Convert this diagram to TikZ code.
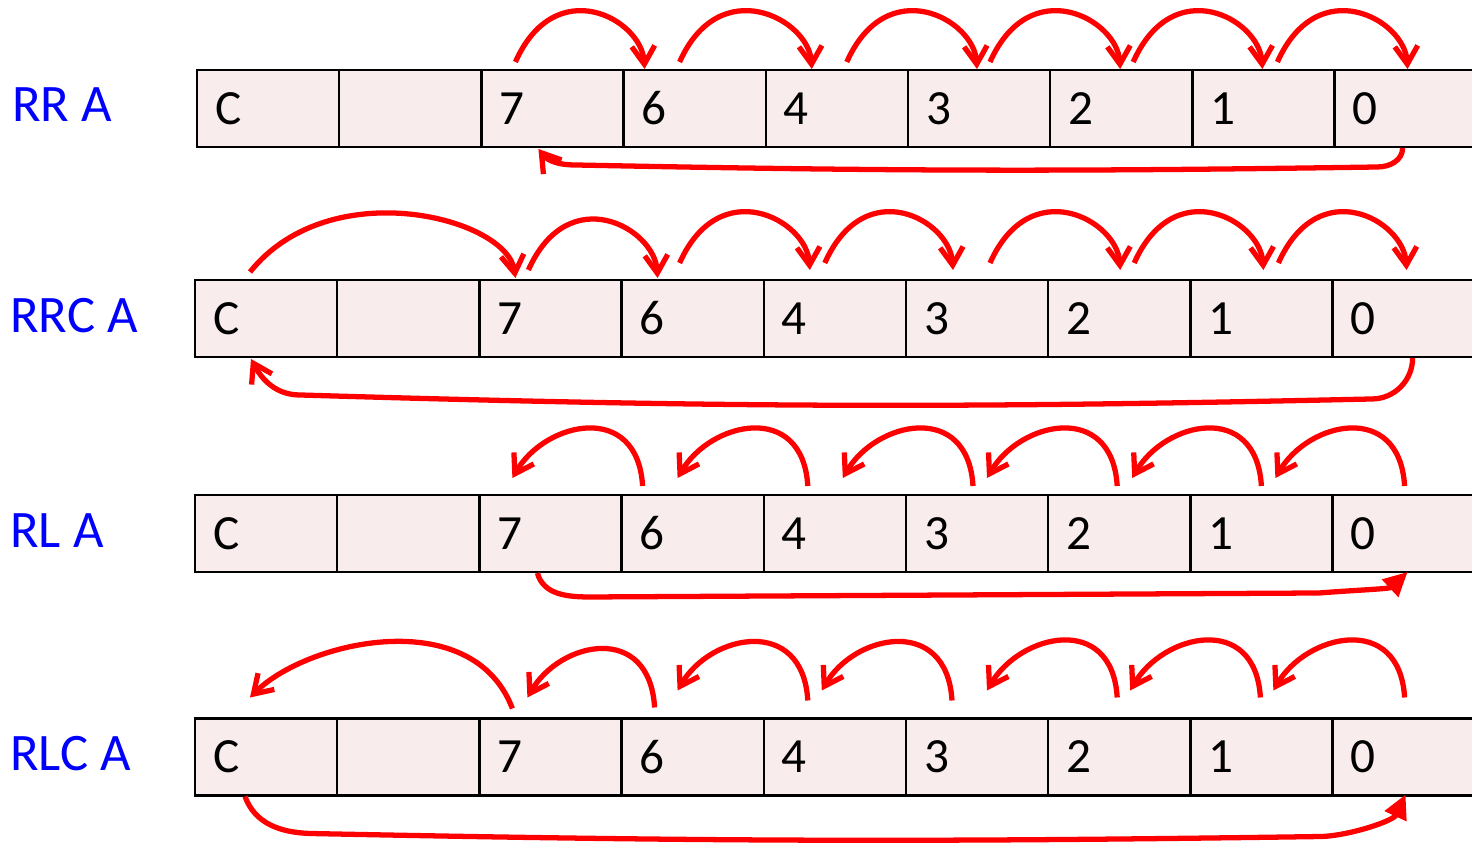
\documentclass[tikz,border=0pt]{standalone}
\usepackage{fontspec}
\setmainfont{Carlito}
\usetikzlibrary{arrows.meta,calc}
\definecolor{cellpink}{RGB}{248,236,236}
\definecolor{regblue}{RGB}{0,0,255}
\definecolor{shiftred}{RGB}{255,0,0}
\tikzset{
  cell/.style={draw=black, line width=1.4pt, fill=cellpink, anchor=west, outer sep=0pt, inner sep=0pt,
    minimum width=2.844cm, minimum height=1.54cm, text width=2.12cm, align=left,
    font=\fontsize{28}{30}\selectfont},
  reg/.style={anchor=west, inner sep=0pt, text=regblue, font=\fontsize{30}{32}\selectfont},
  hop/.style={draw=shiftred, line width=3pt, -{Straight Barb[length=3.6mm,width=4.6mm]}},
  wrap/.style={draw=shiftred, line width=3pt, -{Triangle[length=4.8mm,width=4.6mm]}}
}
\begin{document}
\begin{tikzpicture}[x=0.02cm, y=0.02cm]
  \path[use as bounding box, fill=white] (0,0) rectangle (1472,845);

  \foreach \r/\x/\y in {rr/197/736.5, rrc/195/526.5, rl/195/311.5, rlc/195/88}
    \foreach \t [count=\i] in {C,{},7,6,4,3,2,1,0}
      \node[cell] (\r-\i) at ({\x+142.2*(\i-1)},\y) {\t};

  \node[reg] (lab-rr)  at (12,740)  {RR A};
  \node[reg] (lab-rrc) at (10,529)  {RRC A};
  \node[reg] (lab-rl)  at (10,314.5) {RL A};
  \node[reg] (lab-rlc) at (10,91.5) {RLC A};

  \foreach \a/\da/\b/\db in {3/34/4/21, 4/56/5/46, 5/81/6/69, 6/82/7/70, 7/83/8/70, 8/85/9/73}
    \draw[hop] ($(rr-\a.north west)+(\da,8)$) .. controls +(40,90) and +(-3,50) .. ($(rr-\b.north west)+(\db,1)$);
  \draw[hop] ($(rr-9.south west)+(68,-1)$) to[out=-90,in=0] ($(rr-9.south west)+(43,-20)$)
    to[bend left=1] ($(rr-3.south west)+(94,-18)$) to[out=180,in=-52] ($(rr-3.south west)+(57,-2)$);

  \draw[hop] ($(rrc-1.north west)+(55,8)$) .. controls +(80,100) and +(-8,60) .. ($(rrc-3.north west)+(36,2)$);
  \foreach \a/\da/\b/\db/\ha/\hb in {3/49/4/36/10/2, 4/58/5/46/17/10, 5/61/6/47/17/10, 6/84/7/72/17/10, 7/86/8/73/17/10, 8/88/9/74/17/10}
    \draw[hop] ($(rrc-\a.north west)+(\da,\ha)$) .. controls +(40,90) and +(-3,50) .. ($(rrc-\b.north west)+(\db,\hb)$);
  \draw[hop] ($(rrc-9.south west)+(80,-1)$) to[out=-90,in=0] ($(rrc-9.south west)+(39,-42)$)
    to[bend left=1.5] ($(rrc-1.south west)+(105,-38)$) to[out=180,in=-62] ($(rrc-1.south west)+(56,-2)$);

  \foreach \a/\da/\b/\db in {4/21/3/33, 5/44/4/56, 6/67/5/79, 7/69/6/81, 8/71/7/84, 9/72/8/85}
    \draw[hop] ($(rl-\a.north west)+(\da,9)$) .. controls +(-5,85) and +(33,57) .. ($(rl-\b.north west)+(\db,17)$);
  \draw[wrap] ($(rl-3.south west)+(58,-1)$) to[out=-75,in=180] ($(rl-3.south west)+(111,-25)$)
    -- ($(rl-9.south west)+(-13,-21)$) to[out=5,in=-137,looseness=0.7] ($(rl-9.south west)+(75,0)$);

  \draw[hop] ($(rlc-3.north west)+(33,10)$) .. controls +(-40,105) and +(57,57) .. ($(rlc-1.north west)+(55,21)$);
  \foreach \a/\da/\b/\db/\ha/\hb in {4/33/3/48/11/21, 5/44/4/56/18/28, 6/46/5/58/18/28, 7/69/6/81/21/28, 8/70/7/82/21/28, 9/72/8/83/21/28}
    \draw[hop] ($(rlc-\a.north west)+(\da,\ha)$) .. controls +(-5,85) and +(33,57) .. ($(rlc-\b.north west)+(\db,\hb)$);
  \draw[wrap] ($(rlc-1.south west)+(50,-1)$) to[out=-70,in=178] ($(rlc-1.south west)+(115,-38)$)
    to[bend right=1] ($(rlc-9.south west)+(-10,-41)$) to[out=3,in=-115,looseness=0.8] ($(rlc-9.south west)+(73,1)$);
\end{tikzpicture}
\end{document}
